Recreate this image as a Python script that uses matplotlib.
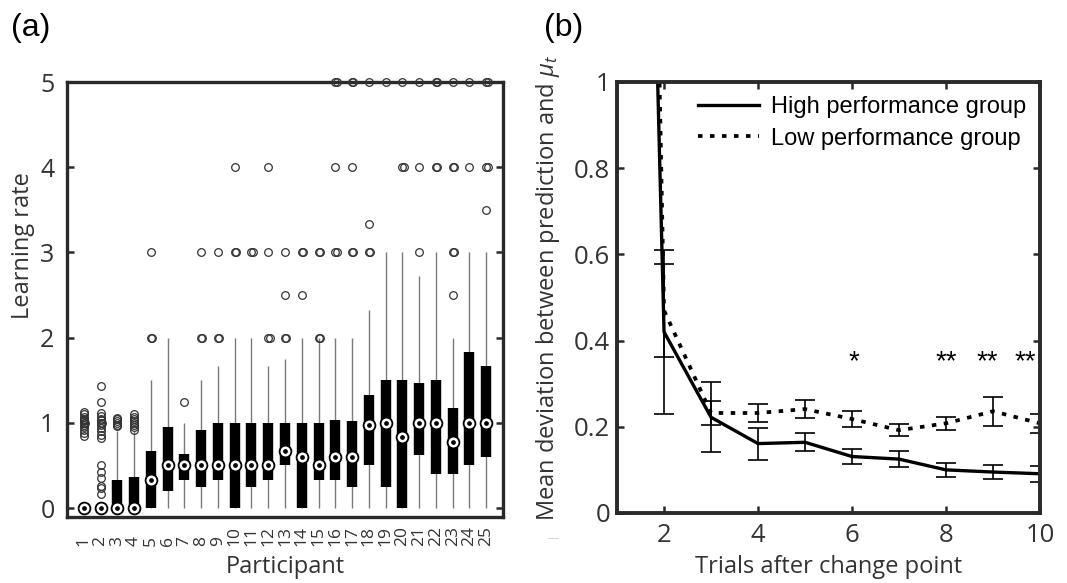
import numpy as np
import matplotlib
matplotlib.use("Agg")
import matplotlib.pyplot as plt
import matplotlib.transforms as mtransforms

plt.rcParams["font.family"] = ["Open Sans", "DejaVu Sans"]
plt.rcParams["mathtext.fontset"] = "custom"
plt.rcParams["mathtext.rm"] = "Open Sans"
plt.rcParams["mathtext.it"] = "Open Sans:italic"

# ---- panel (a): learning rate per participant ----
participants = list(range(1, 26))
medians = [0, 0, 0, 0, 0.33, 0.5, 0.5, 0.5, 0.5, 0.5, 0.5, 0.5, 0.67, 0.6, 0.5,
           0.6, 0.6, 0.97, 1.0, 0.83, 1.0, 1.0, 0.78, 1.0, 1.0]
q1 = [0, 0, 0, 0, 0, 0.2, 0.33, 0.25, 0.33, 0, 0.25, 0.33, 0.5, 0, 0.33,
      0.33, 0.25, 0.5, 0.25, 0, 0.62, 0.4, 0.4, 0.5, 0.6]
q3 = [0, 0, 0.33, 0.36, 0.67, 0.95, 0.63, 0.92, 1.0, 1.0, 1.0, 1.0, 1.0, 1.0, 1.0,
      1.03, 1.02, 1.33, 1.5, 1.5, 1.47, 1.5, 1.17, 1.83, 1.67]
whisk_lo = [0] * 25
whisk_hi = [0, 0, 0.9, 0.9, 1.5, 2, 1, 1.5, 1.67, 2, 2, 1.67, 1.75, 2, 2,
            2, 2, 2.33, 3, 3, 2.72, 3, 2, 3, 3]
outliers = [
    [1.13, 1.1, 1.07, 1.05, 1.03, 1.02, 1.0, 1.0, 0.98, 0.95, 0.92, 0.88, 0.84],
    [1.43, 1.25, 1.12, 1.08, 1.05, 1.03, 1.0, 1.0, 0.97, 0.94, 0.9, 0.86, 0.82,
     0.5, 0.42, 0.35, 0.26, 0.24, 0.17],
    [1.06, 1.04, 1.02, 1.0, 0.98, 0.96],
    [1.1, 1.07, 1.04, 1.02, 1.0, 0.98, 0.95, 0.92],
    [2, 2, 3],
    [],
    [1.25],
    [2, 2, 3],
    [2, 2, 3],
    [3, 3, 4],
    [3, 3],
    [2, 2, 3, 4],
    [2, 2, 2.5, 3],
    [2.5, 3, 3],
    [2, 2, 3, 3],
    [3, 3, 4, 5, 5],
    [3, 3, 4, 5, 5],
    [3, 3, 3.33, 5],
    [5],
    [4, 4, 5],
    [3, 4, 5],
    [4, 4, 5, 5],
    [2.5, 3, 3, 4, 4, 5],
    [4, 5],
    [3.5, 4, 4, 5, 5],
]

# ---- panel (b): mean deviation after change point ----
trials = [1, 2, 3, 4, 5, 6, 7, 8, 9, 10]
high_mean = [4.7, 0.42, 0.222, 0.161, 0.164, 0.131, 0.125, 0.100, 0.095, 0.091]
high_err = [0.5, 0.19, 0.081, 0.037, 0.021, 0.018, 0.018, 0.017, 0.016, 0.018]
low_mean = [6.0, 0.47, 0.232, 0.232, 0.241, 0.218, 0.192, 0.208, 0.236, 0.208]
low_err = [0.5, 0.108, 0.027, 0.022, 0.020, 0.019, 0.014, 0.015, 0.034, 0.022]
star_x = [6.05, 8.0, 8.88, 9.68]
star_y = 0.35
star_text = ["*", "**", "**", "**"]

spine_col = "#2a2a2a"
txt_col = "#333333"
fig = plt.figure(figsize=(10.67, 5.83), dpi=100)

# ================= (a) =================
ax1 = fig.add_axes([0.0628, 0.1132, 0.4086, 0.7461])
ax1.vlines(participants, whisk_lo, whisk_hi, color="#7a7a7a", lw=1.0, zorder=1)
ax1.vlines(participants, q1, q3, color="black", lw=7.5, zorder=2,
           capstyle="butt")
for p, vals in zip(participants, outliers):
    seen = {}
    for v in vals:
        k = seen.get(v, 0)
        seen[v] = k + 1
        shift = 0.08 * ((k + 1) // 2) * (1 if k % 2 else -1)
        ax1.plot(p + shift, v, "o", ms=5.5, mfc="none", mec="#333333",
                 mew=0.9, zorder=4, clip_on=False)
ax1.plot(participants, medians, "o", ms=8.5, mfc="white", mec="black",
         mew=1.3, ls="none", zorder=5, clip_on=False)
ax1.plot(participants, medians, "o", ms=2.4, color="black", ls="none",
         zorder=6, clip_on=False)

ax1.set_xlim(0, 26)
ax1.set_ylim(-0.105, 5)
ax1.set_yticks([0, 1, 2, 3, 4, 5])
ax1.set_xticks(participants)
ax1.set_xticklabels([])
ax1.tick_params(axis="x", length=0)
ax1.tick_params(axis="y", direction="in", length=5, width=1.8, color=spine_col,
                right=True, labelsize=18, pad=9, labelcolor=txt_col)
blend = mtransforms.blended_transform_factory(ax1.transData, ax1.transAxes)
for p in participants:
    ax1.text(p, -0.067, str(p), transform=blend, rotation=90,
             rotation_mode="anchor", ha="left", va="center", fontsize=12.5,
             color=txt_col)
ax1.set_ylabel("Learning rate", fontsize=17, color=txt_col)
ax1.yaxis.set_label_coords(-0.073, 0.625)
ax1.set_xlabel("Participant", fontsize=17, color=txt_col)
ax1.xaxis.set_label_coords(0.5, -0.088)
for s in ax1.spines.values():
    s.set_linewidth(2.4)
    s.set_color(spine_col)

# ================= (b) =================
ax2 = fig.add_axes([0.5783, 0.1201, 0.3964, 0.7393])
ax2.plot(trials, high_mean, color="black", lw=2.4, label="High performance group")
ax2.plot(trials, low_mean, color="black", lw=2.7, ls=(0, (1.2, 2.0)),
         label="Low performance group")
ax2.errorbar(trials, high_mean, yerr=high_err, fmt="none", ecolor="black",
             elinewidth=1.2, capsize=7, capthick=1.2)
ax2.errorbar(trials, low_mean, yerr=low_err, fmt="none", ecolor="black",
             elinewidth=1.2, capsize=7, capthick=1.2)
for x, t in zip(star_x, star_text):
    ax2.text(x, star_y, t, ha="center", va="center", fontsize=20,
             family="Liberation Sans")

ax2.set_xlim(1, 10)
ax2.set_ylim(0, 1)
ax2.set_xticks([2, 4, 6, 8, 10])
ax2.set_yticks([0, 0.2, 0.4, 0.6, 0.8, 1])
ax2.set_yticklabels(["0", "0.2", "0.4", "0.6", "0.8", "1"])
ax2.tick_params(direction="in", length=5, width=1.8, color=spine_col,
                top=True, right=True, labelsize=18.5, labelcolor=txt_col)
ax2.tick_params(axis="y", pad=5)
ax2.tick_params(axis="x", pad=7)
ax2.set_xlabel("Trials after change point", fontsize=17, color=txt_col)
ax2.xaxis.set_label_coords(0.5, -0.098)
ax2.set_ylabel("Mean deviation between prediction and $\\mu_t$", fontsize=17,
               color=txt_col)
ax2.yaxis.set_label_coords(-0.13, 0.522)
for s in ax2.spines.values():
    s.set_linewidth(2.8)
    s.set_color(spine_col)
leg = ax2.legend(loc="upper right", frameon=False, handlelength=2.6,
                 handletextpad=0.5, labelspacing=0.4, borderaxespad=0.2,
                 prop={"family": "Liberation Sans", "size": 17})

fig.text(0.029, 0.952, "(a)", fontsize=23, family="Liberation Sans",
         ha="center", va="center")
fig.text(0.528, 0.952, "(b)", fontsize=23, family="Liberation Sans",
         ha="center", va="center")
fig.text(0.518, 0.077, "\u2014", fontsize=9, color="#cfcfcf", ha="center",
         va="center")

fig.savefig("out.png", dpi=100)
